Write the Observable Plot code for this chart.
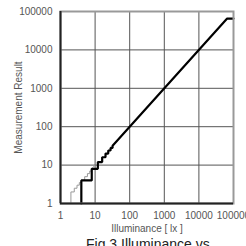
<!DOCTYPE html>
<html>
<head>
<meta charset="utf-8">
<script src="https://cdn.jsdelivr.net/npm/d3@7"></script>
<script src="https://cdn.jsdelivr.net/npm/@observablehq/plot@0.6"></script>
<style>
  html, body { margin: 0; padding: 0; background: #fff; overflow: hidden; }
  #wrap { position: relative; width: 246px; height: 246px; overflow: hidden; }
  #caption { position: absolute; left: 86px; top: 237px; font: 14px "Liberation Sans", Arial, sans-serif; color: #222; white-space: nowrap; line-height: 14px; }
</style>
</head>
<body>
<div id="wrap"><div id="chart"></div><div id="caption">Fig.3 Illuminance vs.</div></div>
<script>
const xTicks = [1, 10, 100, 1000, 10000, 100000];
const yTicks = [1, 10, 100, 1000, 10000, 100000];
const xTickLabels = ["1", "10", "100", "1000", "10000", "100000"];
const yTickLabels = ["1", "10", "100", "1000", "10000", "100000"];
const xLabel = "Illuminance [ lx ]";
const yLabel = "Measurement Result";

// fine-resolution trace (thin grey) vertices
const fineX = [2, 2, 2.5, 2.5, 3, 3, 3.5, 3.5, 4, 4, 5, 5, 6, 6, 7, 7, 8, 8, 10];
const fineY = [1, 2, 2, 2.5, 2.5, 3, 3, 3.5, 3.5, 4, 4, 5, 5, 6, 6, 7, 7, 8, 10];

// measurement result (thick black) vertices
const measX = [4, 4, 8, 8, 12, 12, 16, 16, 20, 20, 24, 24, 28, 28, 32, 32, 65535, 100000];
const measY = [1, 4, 4, 8, 8, 12, 12, 16, 16, 20, 20, 24, 24, 28, 28, 32, 65535, 65535];

const fine = fineX.map((x, i) => ({x, y: fineY[i]}));
const meas = measX.map((x, i) => ({x, y: measY[i]}));

const font = '"Liberation Sans", Arial, sans-serif';

const chart = Plot.plot({
  width: 246,
  height: 236,
  marginLeft: 60,
  marginRight: 13,
  marginTop: 11,
  marginBottom: 33,
  style: {fontFamily: font, fontSize: "10px", color: "#555", background: "#fff"},
  x: {type: "log", domain: [1, 100000]},
  y: {type: "log", domain: [1, 100000]},
  marks: [
    Plot.gridX(xTicks, {stroke: "#555", strokeOpacity: 1, strokeWidth: 1}),
    Plot.gridY(yTicks, {stroke: "#555", strokeOpacity: 1, strokeWidth: 1}),
    Plot.axisX({ticks: xTicks, tickSize: 0, tickPadding: 8, label: null, tickFormat: d => xTickLabels[xTicks.indexOf(d)]}),
    Plot.axisY({ticks: yTicks, tickSize: 0, tickPadding: 8, label: null, tickFormat: d => yTickLabels[yTicks.indexOf(d)]}),
    Plot.line(fine, {x: "x", y: "y", stroke: "#999", strokeWidth: 1, curve: "linear"}),
    Plot.line(meas, {x: "x", y: "y", stroke: "#000", strokeWidth: 2.2, curve: "linear", strokeLinejoin: "miter"}),
    Plot.frame({stroke: "#999", strokeWidth: 2}),
    Plot.ruleX([1], {stroke: "#222", strokeWidth: 2}),
    Plot.ruleY([1], {stroke: "#222", strokeWidth: 2}),
    Plot.text([xLabel], {frameAnchor: "bottom", dy: 28, text: d => d, fill: "#555", fontSize: 10}),
    Plot.text([yLabel], {frameAnchor: "left", dx: -42, rotate: -90, textAnchor: "middle", lineAnchor: "middle", text: d => d, fill: "#555", fontSize: 10})
  ]
});
document.getElementById("chart").appendChild(chart);
</script>
</body>
</html>
